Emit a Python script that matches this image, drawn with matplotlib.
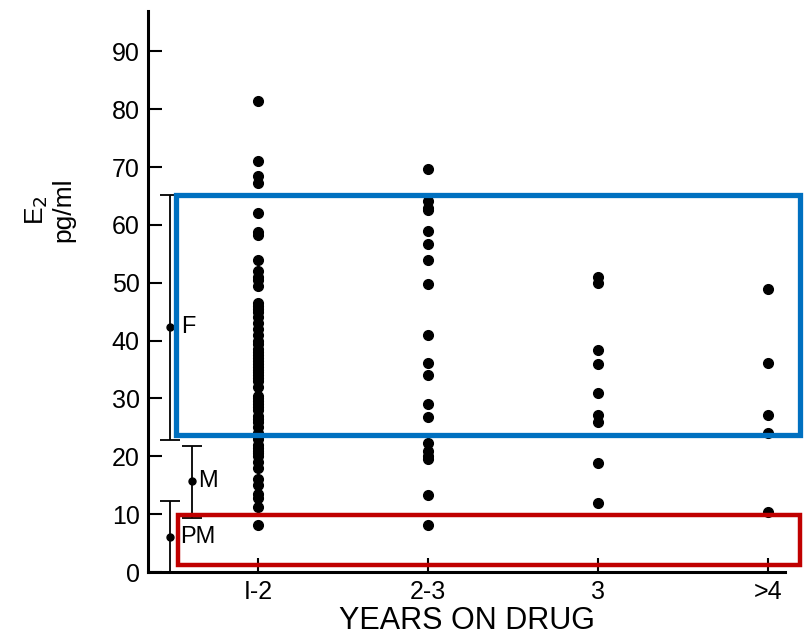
import numpy as np
import matplotlib.pyplot as plt

plt.rcParams['font.family'] = ['Liberation Sans', 'DejaVu Sans']

groups = ['1-2', '2-3', '3', '>4']
tick_labels = ['I-2', '2-3', '3', '>4']

e2_1_2 = [81.5, 71, 68.5, 67.2, 62, 58.8, 58.3, 54, 52, 51, 50.5, 49.5,
          46.5, 46, 45.5, 45, 44, 43, 42, 41, 40, 39.5, 38.5, 38, 37.5, 37,
          36.5, 36, 35.5, 35, 34.5, 34, 33.5, 33, 32, 30.5, 30, 29.5, 29,
          28.5, 28, 27, 26.5, 26, 25, 24, 23.5, 23, 22, 21.5, 21, 20.5, 20,
          19, 18, 16, 15, 13.5, 12.8, 11.2, 8.2]
e2_2_3 = [69.6, 64.1, 63, 62.5, 58.9, 56.7, 54, 49.8, 41, 36.2, 34.1,
          29.1, 26.8, 22.3, 21, 20, 19.5, 13.3, 8.1]
e2_3 = [51, 50, 38.3, 36, 31, 27.2, 26, 18.9, 12]
e2_4 = [49, 36.2, 27.2, 24, 10.4]
series = [e2_1_2, e2_2_3, e2_3, e2_4]

# normal ranges: follicular, midcycle, postmenopausal
ref_names = ['F', 'M', 'PM']
ref_mid = [42.4, 15.8, 6.1]
ref_low = [22.8, 9.3, 0]
ref_high = [65.2, 21.7, 12.3]
ref_x = [-0.52, -0.39, -0.52]
ref_text_x = [-0.45, -0.35, -0.46]

fig = plt.figure(figsize=(8.06, 6.38), dpi=100)
ax = fig.add_axes([0.1836, 0.1034, 0.7904, 0.8796])

for i, vals in enumerate(series):
    ax.plot([i] * len(vals), vals, 'o', color='black', ms=7, clip_on=False, zorder=3)

for name, x, tx, m, lo, hi in zip(ref_names, ref_x, ref_text_x, ref_mid, ref_low, ref_high):
    ax.errorbar([x], [m], yerr=[[m - lo], [hi - m]], fmt='o', color='black',
                ms=5, elinewidth=1.3, capsize=7, capthick=1.3, clip_on=False)
    ax.text(tx, m, name, fontsize=17, va='center', ha='left', zorder=6)

# highlight boxes
ax.add_patch(plt.Rectangle((-0.48, 23.7), 3.67, 41.5, fill=False,
                           edgecolor='#0070C0', lw=3.8, clip_on=False, zorder=5))
ax.add_patch(plt.Rectangle((-0.47, 1.2), 3.66, 8.7, fill=False,
                           edgecolor='#C00000', lw=3.2, clip_on=False, zorder=5))

ax.set_xlim(-0.647, 3.1)
ax.set_ylim(0, 97)
ax.set_yticks(np.arange(0, 91, 10))
ax.set_xticks(range(len(groups)))
ax.set_xticklabels(tick_labels)
ax.tick_params(axis='both', direction='in', length=10, width=1.5, labelsize=18, pad=6)
ax.spines['top'].set_visible(False)
ax.spines['right'].set_visible(False)
ax.spines['left'].set_linewidth(2.2)
ax.spines['bottom'].set_linewidth(2.2)

ax.set_xlabel('YEARS ON DRUG', fontsize=22, labelpad=1)
ax.text(-0.155, 0.645, 'E$_2$\npg/ml', transform=ax.transAxes, rotation=90,
        fontsize=19, ha='center', va='center', multialignment='center',
        linespacing=1.1)

plt.savefig('out.png')
